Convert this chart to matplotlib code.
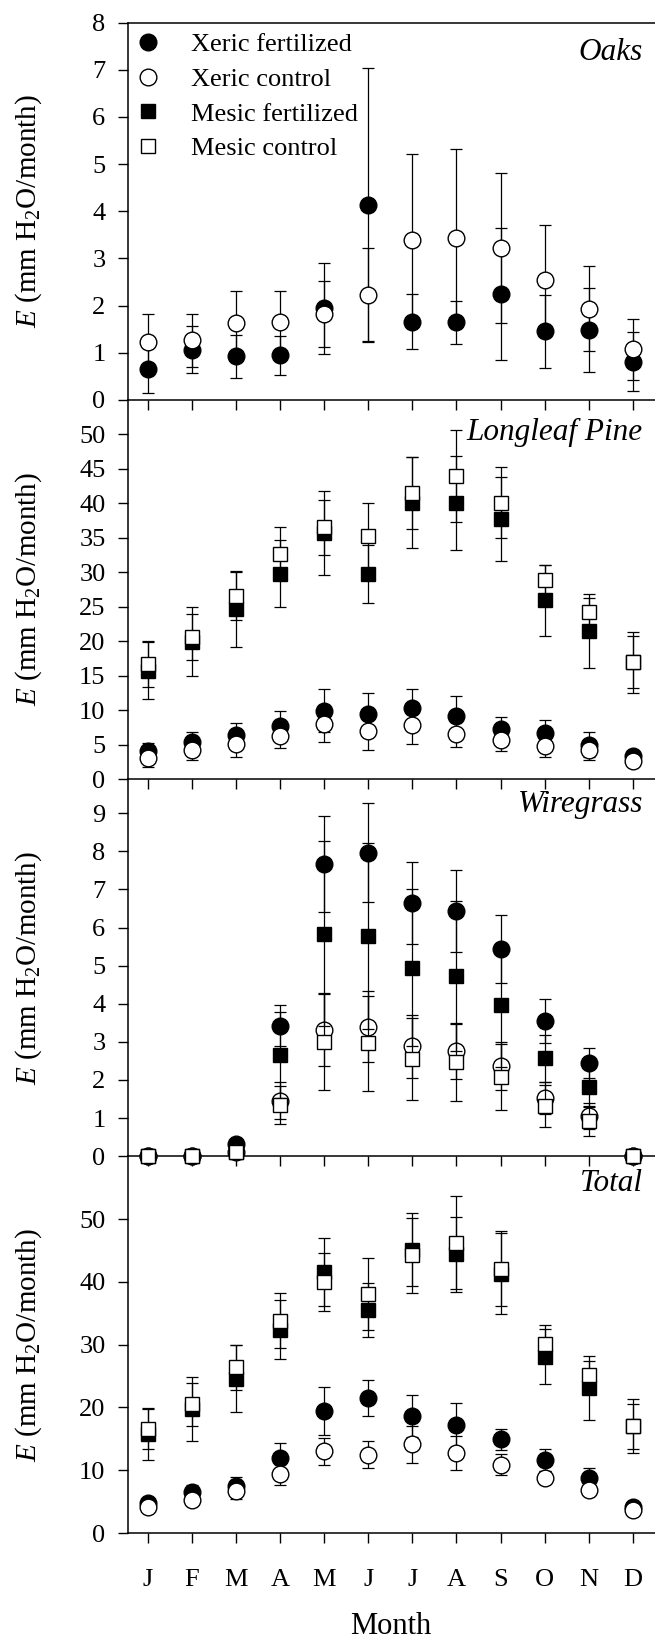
import matplotlib
matplotlib.use("Agg")
import matplotlib.pyplot as plt
from matplotlib.lines import Line2D
import numpy as np

plt.rcParams['font.family'] = ['Liberation Serif', 'DejaVu Serif']
plt.rcParams['mathtext.fontset'] = 'custom'
plt.rcParams['mathtext.rm'] = 'Liberation Serif'
plt.rcParams['mathtext.it'] = 'Liberation Serif:italic'

months = ['J', 'F', 'M', 'A', 'M', 'J', 'J', 'A', 'S', 'O', 'N', 'D']
month_num = np.arange(1, 13)

# ---- Oaks ----
oak_xf = [0.65, 1.06, 0.92, 0.94, 1.94, 4.13, 1.66, 1.64, 2.25, 1.45, 1.48, 0.81]
oak_xf_err = [0.51, 0.50, 0.46, 0.41, 0.96, 2.90, 0.58, 0.46, 1.40, 0.77, 0.90, 0.63]
oak_xc = [1.22, 1.26, 1.63, 1.64, 1.82, 2.23, 3.39, 3.43, 3.22, 2.54, 1.93, 1.07]
oak_xc_err = [0.60, 0.56, 0.67, 0.66, 0.71, 0.98, 1.83, 1.90, 1.60, 1.16, 0.90, 0.64]

# ---- Longleaf pine ----
pine_xf = [4.1, 5.3, 6.4, 7.7, 9.9, 9.4, 10.3, 9.1, 7.2, 6.7, 5.0, 3.3]
pine_xf_err = [1.1, 1.5, 1.7, 2.1, 3.1, 3.1, 2.7, 2.9, 1.75, 1.8, 1.8, 0.8]
pine_xc = [3.05, 4.2, 5.1, 6.3, 8.0, 6.9, 7.9, 6.5, 5.6, 4.85, 4.2, 2.6]
pine_xc_err = [1.3, 1.5, 1.85, 1.8, 2.7, 2.75, 2.8, 1.8, 1.6, 1.65, 1.5, 0.5]
pine_mf = [15.7, 19.9, 24.7, 29.8, 35.7, 29.7, 40.1, 40.0, 37.75, 25.9, 21.5, 16.9]
pine_mf_err = [4.1, 5.0, 5.5, 4.9, 6.1, 4.2, 6.6, 6.8, 6.1, 5.1, 5.4, 4.4]
pine_mc = [16.7, 20.6, 26.5, 32.7, 36.5, 35.2, 41.5, 43.95, 40.1, 28.8, 24.25, 17.0]
pine_mc_err = [3.3, 3.4, 3.5, 3.9, 4.0, 4.8, 5.2, 6.7, 5.1, 2.2, 2.0, 3.8]

# ---- Wiregrass ----
wire_xf = [0, 0, 0.32, 3.43, 7.67, 7.96, 6.64, 6.43, 5.43, 3.55, 2.44, 0]
wire_xf_err = [0, 0, 0, 0.55, 1.27, 1.30, 1.08, 1.07, 0.89, 0.57, 0.39, 0]
wire_xc = [0, 0, 0.1, 1.46, 3.31, 3.40, 2.88, 2.76, 2.37, 1.53, 1.05, 0]
wire_xc_err = [0, 0, 0, 0.48, 0.94, 0.93, 0.83, 0.73, 0.62, 0.42, 0.34, 0]
wire_mf = [0, 0, 0.1, 2.66, 5.84, 5.78, 4.94, 4.73, 3.97, 2.57, 1.81, 0]
wire_mf_err = [0, 0, 0, 1.13, 2.43, 2.43, 2.06, 1.98, 1.62, 0.62, 0.50, 0]
wire_mc = [0, 0, 0.1, 1.35, 3.01, 2.96, 2.55, 2.46, 2.07, 1.31, 0.92, 0]
wire_mc_err = [0, 0, 0, 0.50, 1.27, 1.24, 1.07, 1.00, 0.87, 0.55, 0.38, 0]

# ---- Total ----
tot_xf = [4.75, 6.5, 7.5, 12.0, 19.4, 21.5, 18.6, 17.2, 14.9, 11.6, 8.8, 4.07]
tot_xf_err = [0.6, 1.2, 1.4, 2.4, 3.8, 2.9, 3.3, 3.5, 1.7, 1.8, 1.6, 0.5]
tot_xc = [4.2, 5.3, 6.7, 9.35, 13.0, 12.5, 14.1, 12.8, 10.9, 8.8, 6.9, 3.7]
tot_xc_err = [0.5, 0.8, 1.3, 1.7, 2.2, 2.1, 2.9, 2.7, 1.7, 1.0, 0.9, 0.5]
tot_mf = [15.7, 19.8, 24.6, 32.4, 41.6, 35.5, 45.1, 44.35, 41.3, 28.1, 23.1, 17.0]
tot_mf_err = [4.0, 5.1, 5.3, 4.7, 5.4, 4.3, 5.8, 6.0, 6.5, 4.4, 5.1, 4.3]
tot_mc = [16.6, 20.5, 26.4, 33.8, 40.0, 38.1, 44.2, 46.2, 42.1, 30.1, 25.2, 17.0]
tot_mc_err = [3.3, 3.4, 3.6, 4.35, 4.6, 5.7, 6.0, 7.4, 6.0, 3.0, 2.2, 3.6]

series_names = ['Xeric fertilized', 'Xeric control', 'Mesic fertilized', 'Mesic control']
series_style = {
    'Xeric fertilized': dict(marker='o', mfc='black', ms=12.0),
    'Xeric control': dict(marker='o', mfc='white', ms=12.0),
    'Mesic fertilized': dict(marker='s', mfc='black', ms=10.5),
    'Mesic control': dict(marker='s', mfc='white', ms=10.5),
}

panels = [
    dict(title='Oaks', ylim=(0, 8), ticks=np.arange(0, 9, 1), title_base=60.0,
         data={'Xeric fertilized': (oak_xf, oak_xf_err),
               'Xeric control': (oak_xc, oak_xc_err)}),
    dict(title='Longleaf Pine', ylim=(0, 55), ticks=np.arange(0, 51, 5), title_base=440.0,
         data={'Xeric fertilized': (pine_xf, pine_xf_err),
               'Xeric control': (pine_xc, pine_xc_err),
               'Mesic fertilized': (pine_mf, pine_mf_err),
               'Mesic control': (pine_mc, pine_mc_err)}),
    dict(title='Wiregrass', ylim=(0, 9.9), ticks=np.arange(0, 10, 1), title_base=812.0,
         data={'Xeric fertilized': (wire_xf, wire_xf_err),
               'Xeric control': (wire_xc, wire_xc_err),
               'Mesic fertilized': (wire_mf, wire_mf_err),
               'Mesic control': (wire_mc, wire_mc_err)}),
    dict(title='Total', ylim=(0, 60), ticks=np.arange(0, 51, 10), title_base=1191.0,
         data={'Xeric fertilized': (tot_xf, tot_xf_err),
               'Xeric control': (tot_xc, tot_xc_err),
               'Mesic fertilized': (tot_mf, tot_mf_err),
               'Mesic control': (tot_mc, tot_mc_err)}),
]

W, H = 655, 1642
fig = plt.figure(figsize=(W / 100, H / 100), dpi=100)
left_px = 127.7
edges = [22.7, 399.8, 779.0, 1156.2, 1533.0]

TICK_FS = 19
axes = []
for i, p in enumerate(panels):
    top, bot = edges[i], edges[i + 1]
    ax = fig.add_axes([left_px / W, 1 - bot / H, 1 - left_px / W, (bot - top) / H])
    ax.set_facecolor('none')
    ax.set_xlim(0.55, 12.5)
    ax.set_ylim(*p['ylim'])
    ax.set_yticks(p['ticks'])
    ax.set_xticks(month_num)
    ax.spines['right'].set_visible(False)
    if i > 0:
        ax.spines['top'].set_visible(False)
    for s in ax.spines.values():
        s.set_linewidth(1.1)
    ax.tick_params(axis='both', direction='out', length=7, width=1.0,
                   labelsize=TICK_FS, top=False, right=False)
    ax.tick_params(axis='y', pad=9)
    ax.tick_params(axis='x', pad=19)
    if i < len(panels) - 1:
        ax.tick_params(axis='x', labelbottom=False)
    else:
        ax.set_xticklabels(months)

    # each treatment: error bars first, then its markers on top
    for k, name in enumerate(series_names):
        if name not in p['data']:
            continue
        vals, errs = p['data'][name]
        st = series_style[name]
        z = 2 + 2 * k
        ax.errorbar(month_num, vals, yerr=errs, fmt='none', ecolor='black',
                    elinewidth=0.9, capsize=4.5, capthick=0.9, zorder=z,
                    clip_on=False)
        ax.plot(month_num, vals, ls='none', marker=st['marker'], ms=st['ms'],
                mfc=st['mfc'], mec='black', mew=1.0, zorder=z + 0.5, clip_on=False)

    fig.text(643 / W, 1 - p['title_base'] / H, p['title'], fontsize=22.5,
             style='italic', ha='right', va='baseline')

    fig.text(28.5 / W, 1 - (top + bot) / 2 / H,
             r'$E$ (mm H$_\mathrm{2}$O/month)', rotation=90, fontsize=21,
             ha='center', va='center')
    axes.append(ax)

# legend in the top panel
handles = [Line2D([], [], ls='none', marker=series_style[n]['marker'],
                  ms=series_style[n]['ms'], mfc=series_style[n]['mfc'],
                  mec='black', mew=1.0) for n in series_names]
axes[0].legend(handles, series_names, loc='upper left',
               bbox_to_anchor=((134.5 - left_px) / (W - left_px), 1 - (33 - 22.7) / 377.1),
               frameon=False, fontsize=19, handlelength=1.0, handletextpad=1.15,
               labelspacing=0.42, borderpad=0, borderaxespad=0)

fig.text(391 / W, 1 - 1626 / H, 'Month', fontsize=22, ha='center', va='center')

fig.savefig('out.png', dpi=100)
